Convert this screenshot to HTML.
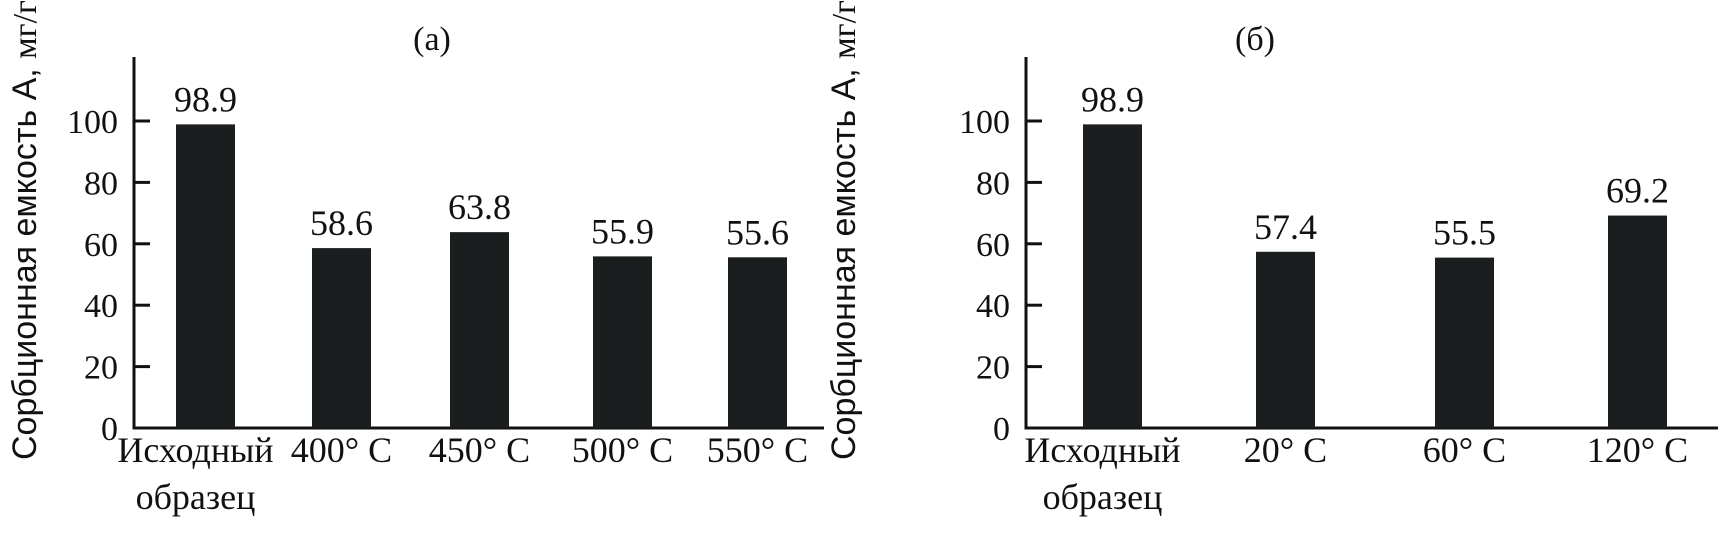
<!DOCTYPE html>
<html><head><meta charset="utf-8"><style>
html,body{margin:0;padding:0;background:#fff;}
svg{display:block;}
text{font-family:"Liberation Serif",serif;fill:#111;}
</style></head><body>
<svg id="chart" width="1721" height="546" viewBox="0 0 1721 546" xmlns="http://www.w3.org/2000/svg"></svg>
<script>
const catsA = ["Исходный|образец", "400° C", "450° C", "500° C", "550° C"];
const valsA = [98.9, 58.6, 63.8, 55.9, 55.6];
const catsB = ["Исходный|образец", "20° C", "60° C", "120° C"];
const valsB = [98.9, 57.4, 55.5, 69.2];
const yTicks = [0, 20, 40, 60, 80, 100];

const NS = "http://www.w3.org/2000/svg";
const svg = document.getElementById("chart");
function mk(tag, attrs, parent) {
  const e = document.createElementNS(NS, tag);
  for (const k in attrs) e.setAttribute(k, attrs[k]);
  (parent || svg).appendChild(e);
  return e;
}

function panel(cfg, cats, vals) {
  const g = mk("g", {});
  
  
  const y = v => cfg.y0 - v * (cfg.y0 - cfg.y100) / 100;
  const xs = cfg.barX;

  const yTitle = mk("text", {x: 0, y: 0, "font-size": 34, "text-anchor": "middle",
    transform: `translate(${cfg.titleX},230) rotate(-90)`, textLength: 460, lengthAdjust: "spacingAndGlyphs",
    style: 'font-family:"Liberation Sans",sans-serif'}, g);
  
  
  const t1 = mk("tspan", {}, yTitle); t1.textContent = "Сорбционная емкость А, ";
  const t2 = mk("tspan", {style: 'font-family:"Liberation Serif",serif'}, yTitle); t2.textContent = "мг/г";

  const ttl = mk("text", {x: cfg.labelX, y: 50, "font-size": 34, "text-anchor": "middle"}, g);
  ttl.textContent = cfg.label;
  
  

  const yAx = mk("line", {x1: cfg.ax, y1: 57, x2: cfg.ax, y2: cfg.y0 + 1.5, stroke: "#111", "stroke-width": 3}, g);
  
  
  const xAx = mk("line", {x1: cfg.ax - 1.5, y1: cfg.y0, x2: cfg.xEnd, y2: cfg.y0, stroke: "#111", "stroke-width": 3}, g);
  
  

  yTicks.forEach(t => {
    if (t > 0) {
      const tl = mk("line", {x1: cfg.ax, y1: y(t), x2: cfg.ax + 16, y2: y(t), stroke: "#111", "stroke-width": 3}, g);
      
      
    }
    const tx = mk("text", {x: cfg.ax - 16, y: y(t) + 12, "font-size": 34, "text-anchor": "end"}, g);
    tx.textContent = t;
    
    
  });

  vals.forEach((v, i) => {
    const r = mk("rect", {x: xs[i], y: y(v), width: 59, height: cfg.y0 - y(v), fill: "#1a1e1e"}, g);
    
    
    const vl = mk("text", {x: xs[i] + 29.5, y: y(v) - 13, "font-size": 36, "text-anchor": "middle"}, g);
    vl.textContent = v.toFixed(1);
    
    
    const parts = cats[i].split("|");
    parts.forEach((p, j) => {
      const cl = mk("text", {x: xs[i] + 29.5 - (parts.length > 1 ? 10 : 0), y: 462 + j * 47, "font-size": 36, "text-anchor": "middle"}, g);
      cl.textContent = p;
      
      
    });
  });
}

panel({name: "panel-a", titleX: 36, labelX: 432, label: "(а)", ax: 134, y0: 428, y100: 121, xEnd: 824,
  barX: [176, 312, 450, 593, 728]}, catsA, valsA);
panel({name: "panel-b", titleX: 855, labelX: 1255, label: "(б)", ax: 1026, y0: 428, y100: 121, xEnd: 1718,
  barX: [1083, 1256, 1435, 1608]}, catsB, valsB);
</script>
</body></html>
